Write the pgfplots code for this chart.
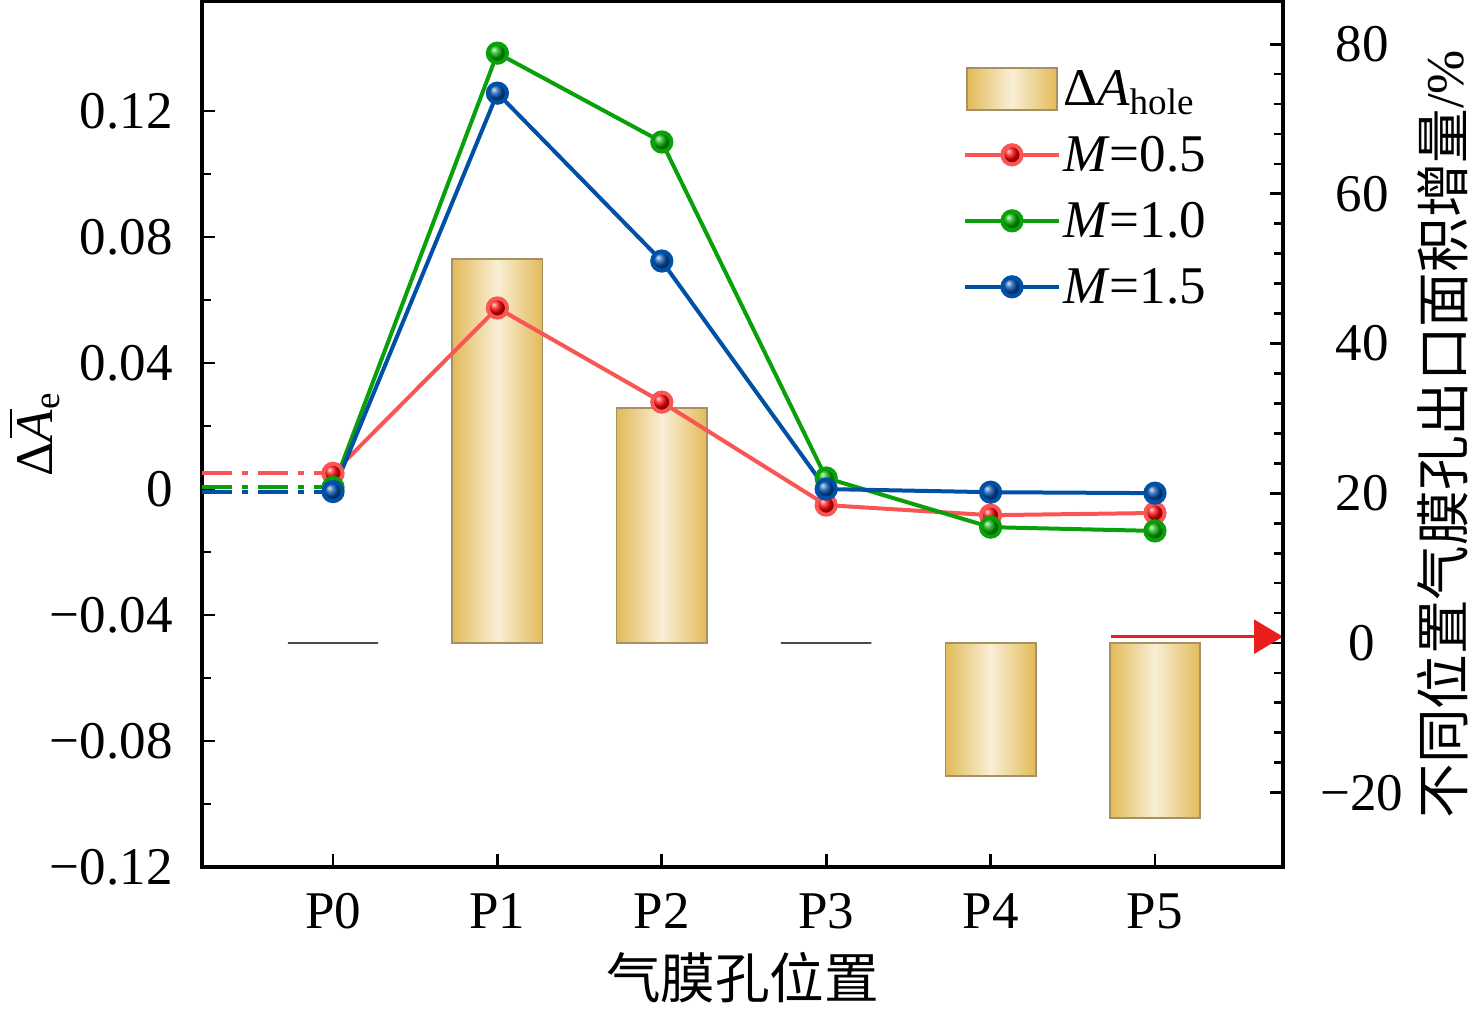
\documentclass[border=0pt]{standalone}
\usepackage{fontspec}
\setmainfont{Liberation Serif}
\newfontfamily\cjk{Noto Sans CJK SC}
\usepackage{pgfplots}
\pgfplotsset{compat=1.18}
\usetikzlibrary{arrows.meta}
\definecolor{redL}{RGB}{250,85,85}
\definecolor{redM}{RGB}{250,0,0}
\definecolor{greenL}{RGB}{10,160,10}
\definecolor{greenM}{RGB}{0,175,0}
\definecolor{blueL}{RGB}{0,80,165}
\definecolor{blueM}{RGB}{0,80,175}
\definecolor{barE}{RGB}{226,186,88}
\definecolor{barM}{RGB}{249,239,214}
\definecolor{barD}{RGB}{165,145,100}
\definecolor{arrowR}{RGB}{235,30,30}
\newcommand\fs{\fontsize{26.5}{30}\selectfont}
\newcommand\fc{\cjk\fontsize{27.3}{30}\selectfont}
\newcommand\mn{\char"2212\relax}
\newcommand\ovA{\begingroup\setbox0\hbox{\itshape A}\rlap{\kern2pt\raisebox{\dimexpr\ht0+2.5pt\relax}{\rule{\dimexpr\wd0-1.5pt\relax}{1.4pt}}}\box0\endgroup}

\begin{document}
\begin{tikzpicture}
\useasboundingbox (0,0) rectangle (738pt,508.5pt);
\pgfplotsset{base/.style={at={(101pt,75pt)}, anchor=south west, scale only axis,
  width=540.5pt, height=432.75pt, xmin=-0.797, xmax=5.779,
  tick align=inside, major tick length=6.5pt, minor tick length=4.5pt,
  tick style={black, line width=1.4pt}, axis line style={line width=1.6pt},
  tick label style={font=\fs}},
  goldbar/.style={ybar, bar width=0.55, bar shift=0pt, draw=barD, line width=0.8pt,
  left color=barE, right color=barE, middle color=barM}}
% ---------- bars (right axis) ----------
\begin{axis}[base, hide x axis, axis y line*=right,
  ymin=-29.93, ymax=85.7,
  ytick={-20,0,20,40,60,80}, yticklabels={\mn20,0,20,40,60,80},
  minor y tick num=4,
  yticklabel style={anchor=center, inner sep=0pt, xshift=39.5pt},
  ylabel={\fc 不同位置气膜孔出口面积增量{\rmfamily\fs /\%}},
  ylabel style={at={([xshift=80pt]axis description cs:1,0.5)}, anchor=center}]
\addplot[goldbar] coordinates {(1,51.3)};
\addplot[goldbar] coordinates {(2,31.4)};
\addplot[goldbar] coordinates {(4,-17.8)};
\addplot[goldbar] coordinates {(5,-23.4)};
\addplot[ybar, bar width=0.55, bar shift=0pt, draw=black!70, line width=1pt, fill=none]
  coordinates {(0,0) (3,0)};
\draw[arrowR, line width=1.3pt, -{Triangle[length=14.5pt,width=17pt]}]
  (axis cs:4.73,0.84) -- (axis cs:5.779,0.84);
\end{axis}
% ---------- lines (left axis) ----------
\begin{axis}[base, ymin=-0.12, ymax=0.1548,
  ytick={-0.12,-0.08,-0.04,0,0.04,0.08,0.12},
  yticklabels={\mn0.12,\mn0.08,\mn0.04,0,0.04,0.08,0.12},
  minor y tick num=1, ytick pos=left,
  xtick={0,1,2,3,4,5}, xticklabels={P0,P1,P2,P3,P4,P5}, xtick pos=bottom,
  xticklabel style={anchor=north, inner sep=0pt, yshift=-13pt},
  yticklabel style={anchor=east, inner sep=0pt, xshift=-14.5pt},
  xlabel={\fc 气膜孔位置},
  xlabel style={at={([yshift=-55.5pt]axis description cs:0.5,0)}, anchor=center},
  ylabel={\fs Δ\ovA\textsubscript{e}},
  ylabel style={at={([xshift=-83.5pt]axis description cs:0,0.5)}, anchor=center},
  legend cell align=left,
  legend style={at={(axis description cs:0.704,0.928)}, anchor=north west,
    draw=none, fill=none, inner sep=0pt, outer sep=0pt, font=\fs, row sep=8pt,
    nodes={inner sep=0pt, text height=21pt, text depth=4pt},
    /tikz/every odd column/.append style={column sep=1pt}},
  legend image code/.code={\draw[mark repeat=2,mark phase=2,#1] plot coordinates {(0pt,0pt) (23.5pt,0pt) (47pt,0pt)};}
]
\addlegendimage{legend image code/.code={\draw[draw=barD, line width=0.8pt, left color=barE, right color=barE, middle color=barM] (1pt,-10.5pt) rectangle (46pt,10.5pt);}}
\addlegendentry{Δ\textit{A}\textsubscript{hole}}
\addplot[forget plot, redL, line width=2pt, dash pattern=on 15pt off 5pt on 3pt off 5pt]
  coordinates {(-0.797,0.005) (0,0.005)};
\addplot[forget plot, greenL, line width=2pt, dash pattern=on 15pt off 5pt on 3pt off 5pt]
  coordinates {(-0.797,0.0005) (0,0.0005)};
\addplot[forget plot, blueL, line width=2pt, dash pattern=on 15pt off 5pt on 3pt off 5pt]
  coordinates {(-0.797,-0.0008) (0,-0.0008)};
\addplot[redL, line width=2pt, mark=ball, mark size=4.8pt, mark options={ball color=redM}]
  coordinates {(0,0.005) (1,0.0575) (2,0.0276) (3,-0.0051) (4,-0.0083) (5,-0.0076)};
\addlegendentry{\textit{M}=0.5}
\addplot[greenL, line width=2pt, mark=ball, mark size=4.8pt, mark options={ball color=greenM}]
  coordinates {(0,0.0005) (1,0.1384) (2,0.1102) (3,0.0035) (4,-0.0121) (5,-0.0133)};
\addlegendentry{\textit{M}=1.0}
\addplot[blueL, line width=2pt, mark=ball, mark size=4.8pt, mark options={ball color=blueM}]
  coordinates {(0,-0.0008) (1,0.1257) (2,0.0724) (3,0.0000) (4,-0.0010) (5,-0.0013)};
\addlegendentry{\textit{M}=1.5}
\end{axis}
\end{tikzpicture}
\end{document}
